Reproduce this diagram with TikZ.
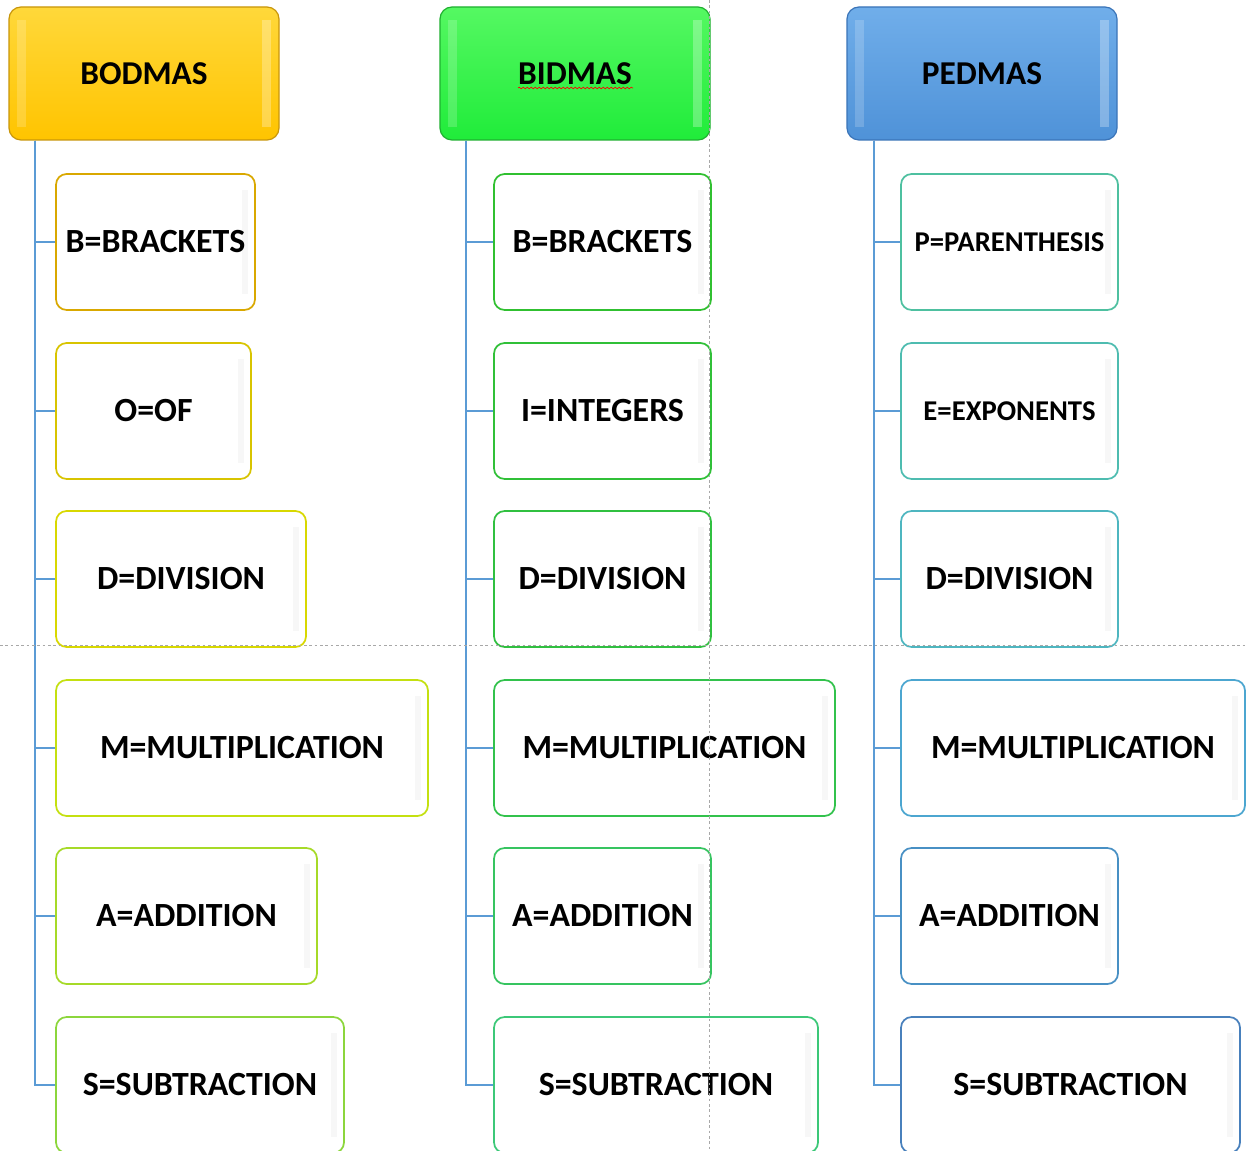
\documentclass[tikz,border=0pt]{standalone}
\usepackage{fontspec}
\setmainfont{Carlito}
\usetikzlibrary{decorations.pathmorphing}
\definecolor{treeblue}{HTML}{5B9BD5}
\definecolor{guide}{HTML}{A8A8A8}
\definecolor{goldtop}{HTML}{FFD83A}\definecolor{goldbot}{HTML}{FFC400}\definecolor{goldrim}{HTML}{C8960A}
\definecolor{greentop}{HTML}{55F862}\definecolor{greenbot}{HTML}{20EC3A}\definecolor{greenrim}{HTML}{1FB030}
\definecolor{bluetop}{HTML}{70AEEA}\definecolor{bluebot}{HTML}{4F92D8}\definecolor{bluerim}{HTML}{3A74B8}
% child borders
\definecolor{a1}{HTML}{D9A800}\definecolor{a2}{HTML}{D8C400}\definecolor{a3}{HTML}{D8D800}
\definecolor{a4}{HTML}{C4E010}\definecolor{a5}{HTML}{A6DA28}\definecolor{a6}{HTML}{8CD63C}
\definecolor{b1}{HTML}{30C030}\definecolor{b2}{HTML}{30C038}\definecolor{b3}{HTML}{30C040}
\definecolor{b4}{HTML}{32C24C}\definecolor{b5}{HTML}{36C460}\definecolor{b6}{HTML}{3CC878}
\definecolor{c1}{HTML}{4EC0A0}\definecolor{c2}{HTML}{4EBCB0}\definecolor{c3}{HTML}{4EB6C0}
\definecolor{c4}{HTML}{4CA6D0}\definecolor{c5}{HTML}{4890C4}\definecolor{c6}{HTML}{4880BC}
\tikzset{
  header/.style={rounded corners=9pt, minimum width=202.5pt, minimum height=99.75pt,
    font=\bfseries\fontsize{25}{28}\selectfont, line width=0.9pt, inner sep=0pt},
  childbox/.style={rounded corners=8pt, fill=white, line width=1.3pt, minimum height=102pt,
    font=\bfseries\fontsize{25.4}{28}\selectfont, inner sep=0pt,
    path picture={\fill[draw=none, sharp corners, black!3] ([xshift=-10pt,yshift=-12pt]path picture bounding box.north east)
      rectangle ([xshift=-5pt,yshift=12pt]path picture bounding box.south east);}},
  bevel/.style={path picture={
      \fill[draw=none, sharp corners, white, opacity=0.18] ([xshift=6pt,yshift=-10pt]path picture bounding box.north west)
        rectangle ([xshift=13pt,yshift=10pt]path picture bounding box.south west);
      \fill[draw=none, sharp corners, white, opacity=0.28] ([xshift=-6pt,yshift=-10pt]path picture bounding box.north east)
        rectangle ([xshift=-13pt,yshift=10pt]path picture bounding box.south east);}},
  tree/.style={draw=treeblue, line width=1.6pt},
  guideline/.style={draw=guide, line width=0.6pt, dash pattern=on 2pt off 2pt}
}
\begin{document}
\begin{tikzpicture}[x=0.75pt,y=-0.75pt]
\useasboundingbox[fill=white] (0,0) rectangle (1246,1151);
% headers
\node[header, bevel, draw=goldrim, top color=goldtop, bottom color=goldbot] (h1) at (144,73.5) {BODMAS};
\node[header, bevel, draw=greenrim, top color=greentop, bottom color=greenbot] (h2) at (575,73.5) {BIDMAS};
\node[header, bevel, draw=bluerim, top color=bluetop, bottom color=bluebot] (h3) at (982,73.5) {PEDMAS};
\draw[red, line width=0.5pt, decorate, decoration={snake, amplitude=0.6pt, segment length=3pt}]
  (518,88) -- (633,88);
% column 1
\node[childbox, draw=a1, minimum width=149.25pt] (p1) at (155.5,242) {B=BRACKETS};
\node[childbox, draw=a2, minimum width=146.25pt] (p2) at (153.5,411) {O=OF};
\node[childbox, draw=a3, minimum width=187.5pt] (p3) at (181,579) {D=DIVISION};
\node[childbox, draw=a4, minimum width=279pt] (p4) at (242,748) {M=MULTIPLICATION};
\node[childbox, draw=a5, minimum width=195.75pt] (p5) at (186.5,916) {A=ADDITION};
\node[childbox, draw=a6, minimum width=216pt] (p6) at (200,1085) {S=SUBTRACTION};
% column 2
\node[childbox, draw=b1, minimum width=162.75pt] (q1) at (602.5,242) {B=BRACKETS};
\node[childbox, draw=b2, minimum width=162.75pt] (q2) at (602.5,411) {I=INTEGERS};
\node[childbox, draw=b3, minimum width=162.75pt] (q3) at (602.5,579) {D=DIVISION};
\node[childbox, draw=b4, minimum width=255.75pt] (q4) at (664.5,748) {M=MULTIPLICATION};
\node[childbox, draw=b5, minimum width=162.75pt] (q5) at (602.5,916) {A=ADDITION};
\node[childbox, draw=b6, minimum width=243pt] (q6) at (656,1085) {S=SUBTRACTION};
% column 3
\node[childbox, draw=c1, minimum width=162.75pt, font=\bfseries\fontsize{21.5}{24}\selectfont] (r1) at (1009.5,242) {P=PARENTHESIS};
\node[childbox, draw=c2, minimum width=162.75pt, font=\bfseries\fontsize{21.5}{24}\selectfont] (r2) at (1009.5,411) {E=EXPONENTS};
\node[childbox, draw=c3, minimum width=162.75pt] (r3) at (1009.5,579) {D=DIVISION};
\node[childbox, draw=c4, minimum width=258pt] (r4) at (1073,748) {M=MULTIPLICATION};
\node[childbox, draw=c5, minimum width=162.75pt] (r5) at (1009.5,916) {A=ADDITION};
\node[childbox, draw=c6, minimum width=254.25pt] (r6) at (1070.5,1085) {S=SUBTRACTION};
% tree connectors
\coordinate (t1) at ([xshift=27*0.75pt]h1.south west);
\coordinate (t2) at ([xshift=27*0.75pt]h2.south west);
\coordinate (t3) at ([xshift=28*0.75pt]h3.south west);
\foreach \n in {p1,p2,p3,p4,p5,p6}{\draw[tree] (t1) |- (\n.west);}
\foreach \n in {q1,q2,q3,q4,q5,q6}{\draw[tree] (t2) |- (\n.west);}
\foreach \n in {r1,r2,r3,r4,r5,r6}{\draw[tree] (t3) |- (\n.west);}
% page guides
\coordinate (gl) at (0,645); \coordinate (gr) at (1246,645);
\coordinate (gt) at (709,0); \coordinate (gb) at (709,1151);
\draw[guideline] (gl) -- (gr);
\draw[guideline] (gt) -- (gb);
\end{tikzpicture}
\end{document}
